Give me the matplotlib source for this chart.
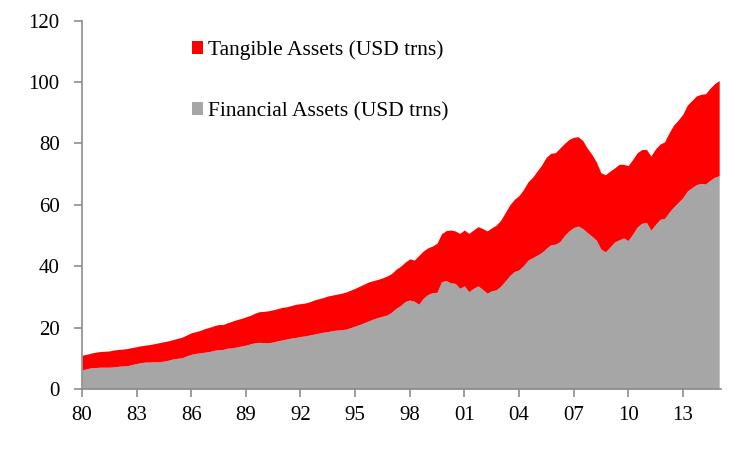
import matplotlib
matplotlib.use("Agg")
import matplotlib.pyplot as plt
from matplotlib.patches import Patch
import numpy as np

# quarterly observations, 1980Q1 .. 2015Q1
years = [1980 + 0.25 * i for i in range(141)]

financial = [
    6.2, 6.6, 6.9, 7.0, 7.1, 7.1, 7.1, 7.2, 7.4, 7.5, 7.6, 8.0, 8.3, 8.6, 8.8, 8.8,
    8.9, 8.9, 9.1, 9.4, 9.8, 10.0, 10.2, 10.8, 11.3, 11.6, 11.8, 12.0, 12.2, 12.6, 12.8, 12.9,
    13.3, 13.4, 13.7, 14.0, 14.3, 14.7, 15.1, 15.2, 15.1, 15.1, 15.3, 15.7, 16.0, 16.3, 16.6, 16.8,
    17.1, 17.3, 17.6, 17.9, 18.2, 18.5, 18.7, 19.0, 19.2, 19.3, 19.5, 20.0, 20.5, 21.0, 21.6, 22.2,
    22.8, 23.3, 23.7, 24.1, 25.0, 26.3, 27.2, 28.5, 29.0, 28.6, 27.6, 29.6, 30.8, 31.4, 31.5, 35.0,
    35.3, 34.6, 34.4, 32.8, 33.6, 31.7, 32.8, 33.6, 32.5, 31.2, 32.0, 32.3, 33.5, 35.2, 37.0, 38.3,
    38.8, 40.2, 42.0, 42.8, 43.6, 44.5, 45.8, 47.0, 47.2, 48.0, 50.0, 51.5, 52.6, 53.1, 52.3, 51.0,
    49.8, 48.5, 45.6, 44.7, 46.2, 47.9, 48.6, 49.2, 48.4, 50.5, 52.8, 54.0, 54.3, 51.8, 53.6, 55.3,
    55.6, 57.6, 59.3, 60.8, 62.3, 64.5, 65.6, 66.6, 67.0, 66.8, 68.0, 69.0, 69.5,
]

total = [
    11.0, 11.3, 11.7, 12.0, 12.2, 12.3, 12.4, 12.7, 12.9, 13.0, 13.2, 13.5, 13.8, 14.1, 14.3, 14.5,
    14.8, 15.1, 15.4, 15.7, 16.1, 16.5, 16.9, 17.6, 18.3, 18.7, 19.1, 19.7, 20.1, 20.6, 21.0, 21.0,
    21.6, 22.1, 22.6, 23.0, 23.5, 24.0, 24.7, 25.2, 25.3, 25.5, 25.8, 26.2, 26.6, 26.8, 27.2, 27.6,
    27.8, 28.0, 28.4, 29.0, 29.4, 29.8, 30.3, 30.6, 30.9, 31.2, 31.6, 32.2, 32.8, 33.5, 34.2, 34.9,
    35.3, 35.7, 36.2, 36.8, 37.6, 39.0, 40.0, 41.3, 42.4, 42.0, 43.5, 45.0, 46.0, 46.6, 47.5, 50.6,
    51.6, 51.8, 51.5, 50.7, 51.8, 50.7, 51.8, 52.9, 52.3, 51.5, 52.5, 53.4, 55.0, 57.5, 60.0, 61.8,
    63.0, 65.0, 67.5, 69.0, 71.0, 73.0, 75.5, 76.8, 77.0, 78.5, 80.0, 81.3, 82.0, 82.2, 81.0, 78.5,
    76.5, 74.0, 70.5, 69.8, 71.0, 72.0, 73.2, 73.2, 72.8, 74.8, 77.0, 78.0, 78.1, 75.9, 78.2, 79.8,
    80.5, 83.5, 86.0, 87.6, 89.5, 92.5, 94.0, 95.5, 96.0, 96.2, 98.0, 99.5, 100.5,
]

tick_years = [1980, 1983, 1986, 1989, 1992, 1995, 1998, 2001, 2004, 2007, 2010, 2013]
tick_labels = ["80", "83", "86", "89", "92", "95", "98", "01", "04", "07", "10", "13"]
y_ticks = [0, 20, 40, 60, 80, 100, 120]

RED = "#FF0000"
GRAY = "#A6A6A6"
AXC = "#8C8C8C"

plt.rcParams['font.family'] = ['Liberation Serif', 'DejaVu Serif']

fig = plt.figure(figsize=(7.5, 4.5), dpi=100)
ax = fig.add_axes([82 / 750, 61 / 450, (721 - 82) / 750, (389 - 20.7) / 450])

ax.fill_between(years, 0, financial, color=GRAY, linewidth=0)
ax.fill_between(years, financial, total, color=RED, linewidth=0)

ax.set_xlim(1980, 2015.1)
ax.set_ylim(0, 120)
ax.set_xticks(tick_years)
ax.set_xticklabels(tick_labels)
ax.set_yticks(y_ticks)

for s in ["top", "right"]:
    ax.spines[s].set_visible(False)
for s in ["left", "bottom"]:
    ax.spines[s].set_color(AXC)
    ax.spines[s].set_linewidth(1.2)
ax.tick_params(axis="both", colors=AXC, length=6, width=1.2, labelsize=15,
               labelcolor="black", direction="out")
ax.tick_params(axis="x", pad=6)
ax.tick_params(axis="y", pad=10)

handles = [Patch(facecolor=RED, edgecolor="none"), Patch(facecolor=GRAY, edgecolor="none")]
leg = ax.legend(handles, ["Tangible Assets (USD trns)", "Financial Assets (USD trns)"],
                loc="upper left", bbox_to_anchor=(0.172, 0.947), frameon=False,
                fontsize=15.5, handlelength=0.52, handleheight=0.52, handletextpad=0.25,
                labelspacing=1.95, borderaxespad=0, borderpad=0)

fig.savefig("out.png", dpi=100)
